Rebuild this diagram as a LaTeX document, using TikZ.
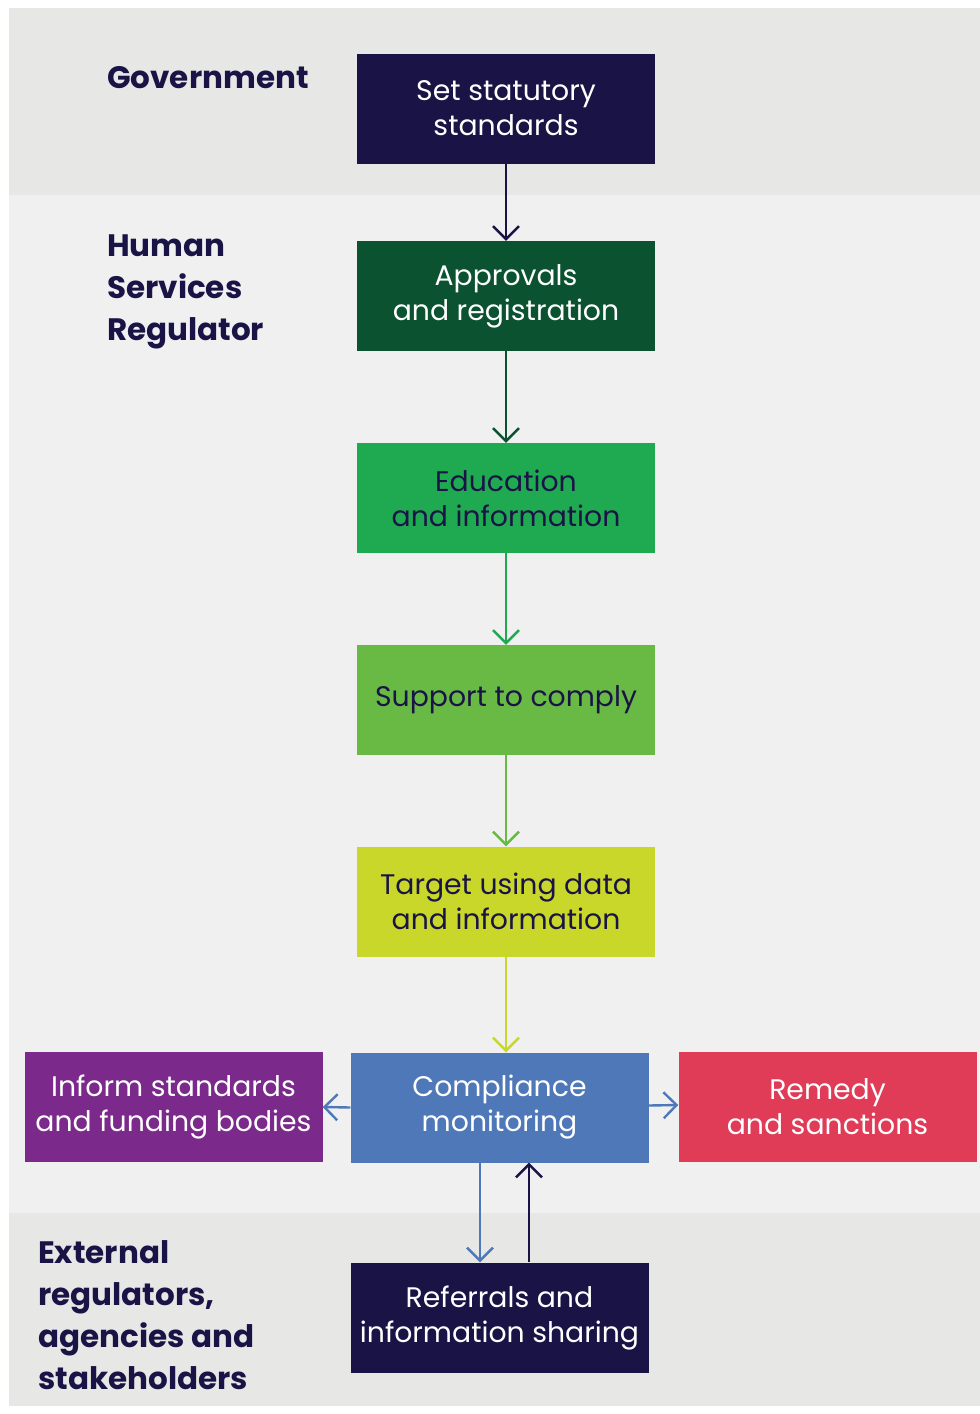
\documentclass[tikz,border=0pt]{standalone}
\usepackage{fontspec}
\setmainfont{Poppins}
\usetikzlibrary{arrows.meta,calc}
\definecolor{navy}{HTML}{1A1446}
\definecolor{dgreen}{HTML}{0A5230}
\definecolor{mgreen}{HTML}{1FAA52}
\definecolor{lgreen}{HTML}{69B945}
\definecolor{lime}{HTML}{C9D72A}
\definecolor{cblue}{HTML}{4F78B8}
\definecolor{purp}{HTML}{7B2A8C}
\definecolor{rred}{HTML}{E03C58}
\definecolor{bandA}{HTML}{E7E7E5}
\definecolor{bandB}{HTML}{F0F0F0}
\tikzset{
  box/.style={rectangle, minimum width=298pt, minimum height=110pt, inner sep=0pt,
    align=center, font=\fontsize{28.3}{35}\selectfont, text=white},
  lbl/.style={anchor=north west, align=left, inner sep=0pt, text=navy,
    font=\fontsize{31}{42}\selectfont\bfseries},
  arr/.style={line width=2.4pt, -{Straight Barb[length=13pt,width=26pt,line width=2.4pt]}}
}
\begin{document}
\begin{tikzpicture}[x=1pt,y=-1pt]
\useasboundingbox (0,0) rectangle (980,1414);
\fill[white] (0,0) rectangle (980,1414);
\fill[bandA] (9,8) rectangle (980,195);
\fill[bandB] (9,195) rectangle (980,1213);
\fill[bandA] (9,1213) rectangle (980,1406);

\node[lbl] (gov) at (107,66) {Government};
\node[lbl] (hsr) at (107,235) {Human\\Services\\Regulator};
\node[lbl] (ext) at (38,1240) {External\\regulators,\\agencies and\\stakeholders};

\node[box, fill=navy] (set) at (506,108.5) {Set statutory\\standards};
\node[box, fill=dgreen] (appr) at (506,296) {Approvals\\and registration};
\node[box, fill=mgreen, text=navy] (edu) at (506,498) {Education\\and information};
\node[box, fill=lgreen, text=navy] (sup) at (506,700) {Support to comply};
\node[box, fill=lime, text=navy] (tgt) at (506,901.5) {Target using data\\and information};
\node[box, fill=cblue] (comp) at (499.5,1107.5) {Compliance\\monitoring};
\node[box, fill=purp] (inf) at (173.5,1107) {Inform standards\\and funding bodies};
\node[box, fill=rred] (rem) at (827.5,1107) {Remedy\\and sanctions};
\node[box, fill=navy] (ref) at (499.5,1317.5) {Referrals and\\information sharing};

\draw[arr, navy] (set.south) -- (appr.north);
\draw[arr, dgreen] (appr.south) -- (edu.north);
\draw[arr, mgreen] (edu.south) -- (sup.north);
\draw[arr, lgreen] (sup.south) -- (tgt.north);
\draw[arr, lime] (tgt.south) -- (tgt.south |- comp.north);
\draw[arr, cblue] (comp.west) -- (inf.east);
\draw[arr, cblue] ($(comp.east)+(0,-2)$) -- ($(rem.west)+(0,-2)$);
\coordinate (cd) at ($(comp.south)+(-19.5,0)$);
\coordinate (cu) at ($(comp.south)+(29.5,0)$);
\draw[arr, cblue] (cd) -- (cd |- ref.north);
\draw[arr, navy] (cu |- ref.north) -- (cu);
\end{tikzpicture}
\end{document}
